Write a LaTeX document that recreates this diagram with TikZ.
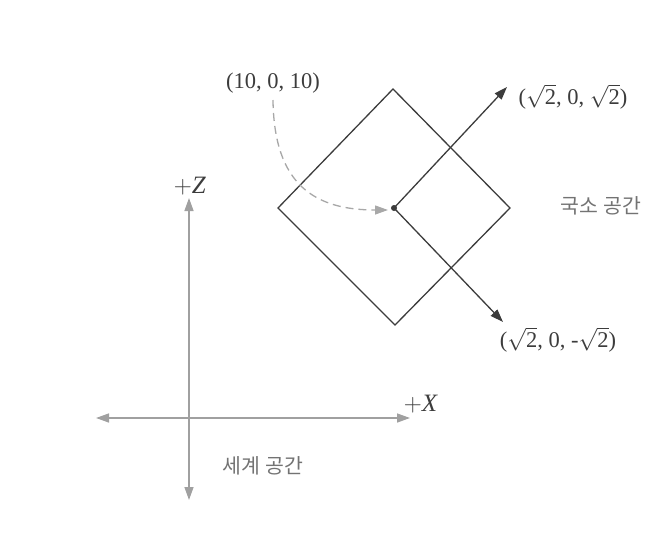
\documentclass[tikz,border=0pt]{standalone}
\usepackage{fix-cm}
\usepackage{fontspec}
\setmainfont{Liberation Serif}
\newfontfamily\kr{Noto Sans CJK KR}[Scale=1]
\usetikzlibrary{arrows.meta}
\definecolor{dk}{HTML}{3C3C3C}
\definecolor{ax}{HTML}{A0A0A0}
\definecolor{dsh}{HTML}{A8A8A8}
\newcommand{\rtwo}{$\sqrt{\mbox{2}}$}
\begin{document}
\begin{tikzpicture}[x=1pt,y=-1pt,
  axis/.style={draw=ax,line width=1.4pt,{Triangle[length=13pt,width=9pt]}-{Triangle[length=13pt,width=9pt]}},
  vec/.style={draw=dk,line width=1.3pt,-{Triangle[length=13pt,width=9pt]}},
  lbl/.style={font=\fontsize{22.5}{26}\selectfont,text=dk,inner sep=0pt},
  axl/.style={font=\fontsize{25}{28}\selectfont,text=dk,inner sep=0pt},
  krl/.style={font=\kr\fontsize{20.5}{24}\selectfont,text=black!55,inner sep=0pt}]
\useasboundingbox (0,0) rectangle (662,539);
% world axes
\coordinate (xl) at (96,418);
\coordinate (xr) at (410,418);
\coordinate (zt) at (189,198);
\coordinate (zb) at (189,500);
\draw[axis] (xl) -- (xr);
\draw[axis] (zb) -- (zt);
\node[axl] (zlab) at (190,186) {$+$\textit{Z}};
\node[axl] (xlab) at (421,404) {$+$\textit{X}};
\node[krl] (world) at (263,466) {세계 공간};
% diamond
\coordinate (dt) at (393,89);
\coordinate (dl) at (278,208);
\coordinate (dr) at (510,208);
\coordinate (db) at (395,325);
\draw[dk,line width=1.3pt,line join=miter] (dt) -- (dr) -- (db) -- (dl) -- cycle;
% center and vectors
\coordinate (c) at (394,208);
\coordinate (v1) at (507,87);
\coordinate (v2) at (503,322);
\draw[vec] (c) -- (v1);
\draw[vec] (c) -- (v2);
\fill[dk] (c) circle (3pt);
\node[lbl] (l1) at (573,97) {(\rtwo, 0, \rtwo)};
\node[lbl] (l2) at (558,340) {(\rtwo, 0, -\rtwo)};
\node[krl] (local) at (601,206) {국소 공간};
% origin label + dashed curve
\node[lbl] (o) at (273,83) {(10, 0, 10)};
\coordinate (ds) at (273,100);
\coordinate (de) at (388,210);
\draw[draw=dsh,line width=1.3pt,dash pattern=on 8pt off 5pt,-{Triangle[length=13pt,width=9pt]}] (ds) .. controls (274,185) and (315,210) .. (de);
\end{tikzpicture}
\end{document}
